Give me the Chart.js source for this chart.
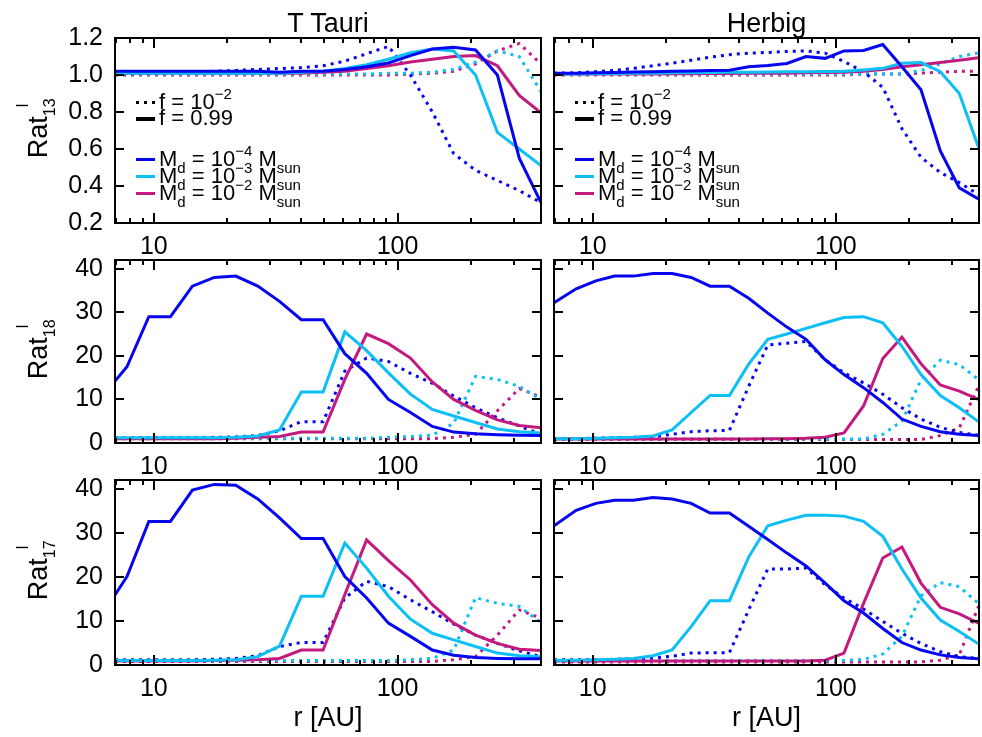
<!DOCTYPE html>
<html lang="en">
<head>
<meta charset="UTF-8">
<title>Line ratios vs radius</title>
<script src="https://cdn.jsdelivr.net/npm/chart.js"></script>
<style>
    body {
        margin: 0;
        background: #fff;
    }
    #fig {
        position: relative;
        width: 982px;
        height: 737px;
        overflow: hidden;
        font-family: "Liberation Sans", Arial, Helvetica, sans-serif;
        color: #000;
    }
    #fig canvas {
        position: absolute;
    }
    .txt {
        position: absolute;
        white-space: nowrap;
    }
    .title {
        font-size: 27px;
        line-height: 27px;
        width: 300px;
        text-align: center;
    }
    .ytitle {
        font-size: 27px;
        line-height: 27px;
        height: 27px;
        transform: translate(-50%, -50%) rotate(-90deg);
    }
    .ytitle .sb, .ytitle .sp {
        font-size: 16px;
        line-height: 0;
        position: relative;
    }
    .ytitle .sb { top: 8px; }
    .ytitle .sp { top: -19px; margin-left: -9px; }
    .leg {
        font-size: 22px;
        line-height: 22px;
    }
    .leg sub, .leg sup {
        font-size: 15px;
        line-height: 0;
        vertical-align: baseline;
        position: relative;
    }
    .leg sub { top: 7px; }
    .leg sup { top: -10px; }
    .sample {
        position: absolute;
        width: 19px;
        height: 3px;
    }
</style>
</head>
<body>
<div id="fig"></div>
<script>
// radial grids (AU) of the two disc models
const R_TTAURI = [6.93, 7.76, 9.54, 11.7, 14.4, 17.7, 21.7, 26.7, 32.8, 40.3, 49.5, 60.8, 74.7, 91.8, 113, 139, 170, 209, 257, 316, 388];
const R_HERBIG = [6.93, 8.55, 10.3, 12.3, 14.7, 17.7, 21.2, 25.4, 30.4, 36.5, 43.8, 52.5, 62.9, 75.4, 90.4, 108, 130, 156, 187, 224, 269, 322, 386];

// Rat_13, T Tauri
const TT13_M4_F99 = [1.02, 1.02, 1.02, 1.02, 1.02, 1.02, 1.02, 1.02, 1.015, 1.02, 1.02, 1.03, 1.045, 1.065, 1.105, 1.14, 1.15, 1.135, 1.0, 0.55, 0.31];
const TT13_M3_F99 = [1.01, 1.01, 1.01, 1.01, 1.01, 1.01, 1.01, 1.01, 1.01, 1.015, 1.02, 1.035, 1.055, 1.085, 1.12, 1.14, 1.13, 1.0, 0.69, 0.6, 0.51];
const TT13_M2_F99 = [1.01, 1.01, 1.01, 1.01, 1.01, 1.01, 1.01, 1.01, 1.01, 1.01, 1.015, 1.02, 1.035, 1.05, 1.07, 1.085, 1.1, 1.105, 1.05, 0.89, 0.795];
const TT13_M4_F01 = [1.005, 1.005, 1.01, 1.01, 1.015, 1.02, 1.025, 1.03, 1.035, 1.04, 1.05, 1.075, 1.115, 1.155, 1.0, 0.8, 0.575, 0.485, 0.43, 0.375, 0.31];
const TT13_M3_F01 = [1.005, 1.005, 1.005, 1.005, 1.005, 1.005, 1.005, 1.005, 1.005, 1.005, 1.005, 1.005, 1.005, 1.01, 1.01, 1.015, 1.03, 1.07, 1.13, 1.1, 0.91];
const TT13_M2_F01 = [1.0, 1.0, 1.0, 1.0, 1.0, 1.0, 1.0, 1.0, 1.0, 1.0, 1.0, 1.0, 1.0, 1.0, 1.005, 1.01, 1.02, 1.06, 1.13, 1.17, 1.06];

// Rat_13, Herbig
const HB13_M4_F99 = [1.01, 1.01, 1.012, 1.014, 1.016, 1.018, 1.02, 1.022, 1.024, 1.026, 1.045, 1.052, 1.062, 1.1, 1.09, 1.13, 1.133, 1.165, 1.045, 0.92, 0.59, 0.39, 0.33];
const HB13_M3_F99 = [1.005, 1.005, 1.007, 1.008, 1.01, 1.01, 1.012, 1.012, 1.014, 1.015, 1.015, 1.016, 1.017, 1.018, 1.019, 1.02, 1.027, 1.036, 1.064, 1.067, 1.018, 0.9, 0.61];
const HB13_M2_F99 = [1.005, 1.005, 1.005, 1.005, 1.005, 1.005, 1.007, 1.007, 1.008, 1.008, 1.01, 1.01, 1.01, 1.012, 1.013, 1.015, 1.02, 1.03, 1.045, 1.055, 1.067, 1.08, 1.093];
const HB13_M4_F01 = [1.01, 1.012, 1.018, 1.025, 1.036, 1.05, 1.064, 1.08, 1.096, 1.11, 1.118, 1.122, 1.127, 1.13, 1.118, 1.073, 1.018, 0.933, 0.71, 0.555, 0.473, 0.418, 0.355];
const HB13_M3_F01 = [1.005, 1.005, 1.005, 1.005, 1.005, 1.005, 1.005, 1.005, 1.005, 1.005, 1.005, 1.005, 1.005, 1.005, 1.005, 1.005, 1.005, 1.005, 1.005, 1.025, 1.06, 1.1, 1.12];
const HB13_M2_F01 = [1.0, 1.0, 1.0, 1.0, 1.0, 1.0, 1.0, 1.0, 1.0, 1.0, 1.0, 1.0, 1.0, 1.0, 1.0, 1.0, 1.005, 1.005, 1.005, 1.01, 1.015, 1.02, 1.02];

// Rat_18, T Tauri
const TT18_M4_F99 = [14.2, 17.5, 29, 29, 36, 38, 38.3, 36, 32.5, 28.3, 28.3, 20.5, 16, 10, 7, 3.8, 2.5, 2.1, 1.9, 1.8, 1.7];
const TT18_M3_F99 = [1.2, 1.2, 1.2, 1.2, 1.2, 1.2, 1.3, 1.6, 3, 11.7, 11.7, 25.5, 21.2, 16.1, 11.2, 7.7, 6.2, 4.7, 3.2, 2.6, 2.3];
const TT18_M2_F99 = [1, 1, 1, 1, 1, 1, 1.1, 1.3, 1.5, 2.5, 2.5, 14.6, 25, 22.8, 19.5, 14, 10, 7.5, 5.3, 4, 3.5];
const TT18_M4_F01 = [1.2, 1.2, 1.2, 1.2, 1.2, 1.3, 1.4, 1.7, 2.8, 4.9, 4.9, 16.5, 19.5, 18.7, 16, 13.7, 10.8, 8.1, 5.8, 3.9, 2.0];
const TT18_M3_F01 = [1.1, 1.1, 1.1, 1.1, 1.1, 1.1, 1.1, 1.1, 1.1, 1.1, 1.1, 1.1, 1.1, 1.3, 1.5, 1.8, 4.5, 15.3, 14.6, 13, 10];
const TT18_M2_F01 = [1, 1, 1, 1, 1, 1, 1, 1, 1, 1, 1, 1, 1, 1, 1, 1, 1.3, 2.0, 7.4, 12.5, 10.5];

// Rat_18, Herbig
const HB18_M4_F99 = [32.2, 35.4, 37.2, 38.3, 38.3, 38.9, 38.9, 38, 36, 36, 33.2, 29.8, 26.6, 23.8, 19.1, 15.7, 12.7, 9.3, 5.5, 3.8, 2.6, 2.0, 1.7];
const HB18_M3_F99 = [1.0, 1.0, 1.1, 1.2, 1.3, 1.6, 3.0, 7.0, 10.9, 10.9, 18.1, 23.8, 25.0, 26.3, 27.6, 28.8, 29.0, 27.6, 22.2, 15.7, 10.9, 8.1, 4.9];
const HB18_M2_F99 = [0.9, 0.9, 0.9, 0.9, 0.9, 0.9, 0.9, 0.9, 0.9, 0.9, 0.9, 1.0, 1.0, 1.1, 1.3, 2.3, 8.5, 19.4, 24.3, 18.2, 13.3, 11.9, 10.0];
const HB18_M4_F01 = [1.0, 1.0, 1.1, 1.2, 1.3, 1.5, 2.0, 2.6, 2.8, 2.9, 13, 22.5, 22.9, 23.3, 19.1, 16.1, 13.8, 11.2, 8.1, 5.5, 3.6, 2.4, 1.8];
const HB18_M3_F01 = [0.9, 0.9, 0.9, 0.9, 0.9, 0.9, 0.9, 0.9, 0.9, 0.9, 0.9, 0.9, 0.9, 0.9, 0.9, 0.9, 0.9, 2.0, 5.0, 14.5, 19, 18, 14.6];
const HB18_M2_F01 = [0.8, 0.8, 0.8, 0.8, 0.8, 0.8, 0.8, 0.8, 0.8, 0.8, 0.8, 0.8, 0.8, 0.8, 0.8, 0.8, 0.8, 0.8, 0.8, 0.8, 1.7, 3.5, 13];

// Rat_17, T Tauri
const TT17_M4_F99 = [15.9, 20.1, 32.6, 32.6, 39.7, 41, 40.8, 37.7, 33.4, 28.7, 28.7, 20.1, 15.2, 9.5, 6.5, 3.4, 2.2, 1.7, 1.5, 1.4, 1.4];
const TT17_M3_F99 = [1.0, 1.0, 1.0, 1.0, 1.0, 1.1, 1.2, 1.9, 4.3, 15.6, 15.6, 27.7, 22, 15.6, 10.4, 7.2, 5.7, 4.2, 2.7, 2.1, 1.9];
const TT17_M2_F99 = [0.9, 0.9, 0.9, 0.9, 0.9, 1.0, 1.1, 1.2, 1.5, 3.4, 3.4, 16, 28.4, 23.7, 19.3, 13.7, 9.5, 6.8, 4.9, 3.6, 3.3];
const TT17_M4_F01 = [1.2, 1.2, 1.2, 1.2, 1.2, 1.3, 1.5, 2.1, 4.2, 5.1, 5.1, 15.2, 19, 17.8, 14.8, 12.1, 9.3, 6.8, 4.9, 3.2, 1.9];
const TT17_M3_F01 = [1.0, 1.0, 1.0, 1.0, 1.0, 1.0, 1.0, 1.0, 1.0, 1.0, 1.0, 1.0, 1.0, 1.0, 1.2, 1.5, 3.4, 15.3, 14, 13.3, 9.6];
const TT17_M2_F01 = [0.8, 0.8, 0.8, 0.8, 0.8, 0.8, 0.8, 0.8, 0.8, 0.8, 0.8, 0.8, 0.8, 0.8, 0.8, 0.8, 1.2, 1.9, 6.8, 12.5, 10.6];

// Rat_17, Herbig
const HB17_M4_F99 = [31.6, 35.1, 36.7, 37.4, 37.4, 38, 37.7, 36.7, 34.5, 34.5, 31.5, 28.5, 25.4, 22.5, 18.6, 14.6, 11.8, 8.3, 5.1, 3.4, 2.3, 1.7, 1.4];
const HB17_M3_F99 = [1.0, 1.1, 1.2, 1.3, 1.5, 2.1, 3.4, 8.7, 14.6, 14.6, 24.5, 31.6, 32.9, 34, 34, 33.8, 32.6, 29.2, 21.8, 15.2, 10.2, 7.6, 4.8];
const HB17_M2_F99 = [0.9, 0.9, 0.9, 0.9, 0.9, 0.9, 0.9, 0.9, 0.9, 0.9, 0.9, 0.9, 0.9, 0.9, 1.1, 2.7, 14, 24.3, 26.8, 18.6, 13.1, 11.6, 9.5];
const HB17_M4_F01 = [1.2, 1.2, 1.2, 1.3, 1.4, 1.6, 2.0, 2.7, 2.8, 2.8, 12.5, 21.8, 21.8, 22, 18.2, 15.2, 12.7, 9.9, 7.2, 4.9, 3.0, 1.9, 1.5];
const HB17_M3_F01 = [1.0, 1.0, 1.0, 1.0, 1.0, 1.0, 1.0, 1.0, 1.0, 1.0, 1.0, 1.0, 1.0, 1.0, 1.0, 1.0, 1.3, 2.5, 6.5, 15.7, 18.7, 17.8, 14];
const HB17_M2_F01 = [0.7, 0.7, 0.7, 0.7, 0.7, 0.7, 0.7, 0.7, 0.7, 0.7, 0.7, 0.7, 0.7, 0.7, 0.7, 0.7, 0.7, 0.7, 0.7, 0.7, 1.1, 2.3, 13.3];

// axes
const X_MIN = 6.93;
const X_MAX = 388;
const X_TICKS = [7, 8, 9, 10, 20, 30, 40, 50, 60, 70, 80, 90, 100, 200, 300];
const X_LABELED = [10, 100];
const Y_TICKS_13 = [0.2, 0.4, 0.6, 0.8, 1.0, 1.2];
const Y_TICKS_ISO = [0, 10, 20, 30, 40];

const COL_TITLES = ['T Tauri', 'Herbig'];
const ROW_SUBS = ['13', '18', '17'];

const BLUE = '#0505f0';
const CYAN = '#0cbff5';
const MAGENTA = '#c4197f';
const SERIES_COLORS = [BLUE, CYAN, MAGENTA, BLUE, CYAN, MAGENTA];
const SERIES_DOTTED = [false, false, false, true, true, true];

const FONT = '"Liberation Sans", Arial, Helvetica, sans-serif';

// canvas geometry per column / row
const COLS = [
    { left: 0, width: 547, yAxisW: 115, padRight: 6, showY: true, plotLeft: 115, plotW: 426 },
    { left: 547, width: 435, yAxisW: 7, padRight: 3, showY: false, plotLeft: 554, plotW: 425 }
];
const ROWS = [
    { top: 0, height: 262, padTop: 38, axisH: 39, min: 0.2, max: 1.2, ticks: Y_TICKS_13, fmt: v => v.toFixed(1) },
    { top: 240, height: 240, padTop: 20, axisH: 37, min: 0, max: 42, ticks: Y_TICKS_ISO, fmt: v => String(v) },
    { top: 460, height: 277, padTop: 20, axisH: 72, min: 0, max: 42, ticks: Y_TICKS_ISO, fmt: v => String(v) }
];

const PANELS = [
    { row: 0, col: 0, radii: R_TTAURI, series: [TT13_M4_F99, TT13_M3_F99, TT13_M2_F99, TT13_M4_F01, TT13_M3_F01, TT13_M2_F01] },
    { row: 0, col: 1, radii: R_HERBIG, series: [HB13_M4_F99, HB13_M3_F99, HB13_M2_F99, HB13_M4_F01, HB13_M3_F01, HB13_M2_F01] },
    { row: 1, col: 0, radii: R_TTAURI, series: [TT18_M4_F99, TT18_M3_F99, TT18_M2_F99, TT18_M4_F01, TT18_M3_F01, TT18_M2_F01] },
    { row: 1, col: 1, radii: R_HERBIG, series: [HB18_M4_F99, HB18_M3_F99, HB18_M2_F99, HB18_M4_F01, HB18_M3_F01, HB18_M2_F01] },
    { row: 2, col: 0, radii: R_TTAURI, series: [TT17_M4_F99, TT17_M3_F99, TT17_M2_F99, TT17_M4_F01, TT17_M3_F01, TT17_M2_F01] },
    { row: 2, col: 1, radii: R_HERBIG, series: [HB17_M4_F99, HB17_M3_F99, HB17_M2_F99, HB17_M4_F01, HB17_M3_F01, HB17_M2_F01] }
];

// box with inward ticks on all four sides, IDL style
const frameTicks = {
    id: 'frameTicks',
    afterDatasetsDraw(chart) {
        const { ctx, chartArea: a } = chart;
        const xs = chart.scales.x;
        const ys = chart.scales.y;
        ctx.save();
        ctx.strokeStyle = '#000';
        ctx.lineWidth = 2;
        ctx.beginPath();
        xs.ticks.forEach(t => {
            const px = Math.round(xs.getPixelForValue(t.value));
            const len = X_LABELED.includes(t.value) ? 10 : 5;
            ctx.moveTo(px, a.bottom);
            ctx.lineTo(px, a.bottom - len);
            ctx.moveTo(px, a.top);
            ctx.lineTo(px, a.top + len);
        });
        ys.ticks.forEach(t => {
            const py = Math.round(ys.getPixelForValue(t.value));
            ctx.moveTo(a.left, py);
            ctx.lineTo(a.left + 9, py);
            ctx.moveTo(a.right, py);
            ctx.lineTo(a.right - 9, py);
        });
        ctx.stroke();
        ctx.strokeRect(a.left, a.top, a.right - a.left, a.bottom - a.top);
        ctx.restore();
    }
};

function zeroPadding(s) {
    s.paddingLeft = 0;
    s.paddingRight = 0;
    s.paddingTop = 0;
    s.paddingBottom = 0;
}

const fig = document.getElementById('fig');

PANELS.forEach(p => {
    const col = COLS[p.col];
    const row = ROWS[p.row];
    const canvas = document.createElement('canvas');
    canvas.width = col.width;
    canvas.height = row.height;
    canvas.style.left = col.left + 'px';
    canvas.style.top = row.top + 'px';
    fig.appendChild(canvas);

    const datasets = p.series.map((vals, i) => ({
        data: p.radii.map((r, j) => ({ x: r, y: vals[j] })),
        borderColor: SERIES_COLORS[i],
        borderWidth: 3,
        borderDash: SERIES_DOTTED[i] ? [3, 5] : [],
        borderCapStyle: 'butt',
        pointRadius: 0,
        tension: 0,
        fill: false,
        clip: 0
    }));

    new Chart(canvas.getContext('2d'), {
        type: 'line',
        data: { datasets },
        options: {
            responsive: false,
            animation: false,
            devicePixelRatio: 1,
            layout: { padding: { top: row.padTop, right: col.padRight, left: 0, bottom: 0 } },
            plugins: { legend: { display: false }, tooltip: { enabled: false } },
            scales: {
                x: {
                    type: 'logarithmic',
                    min: X_MIN,
                    max: X_MAX,
                    bounds: 'data',
                    afterBuildTicks: s => { s.ticks = X_TICKS.map(v => ({ value: v })); },
                    afterFit: s => { s.height = row.axisH; zeroPadding(s); },
                    grid: { display: false, drawTicks: false },
                    border: { display: false },
                    ticks: {
                        autoSkip: false,
                        maxRotation: 0,
                        padding: 9,
                        color: '#000',
                        font: { family: FONT, size: 25 },
                        callback: v => X_LABELED.includes(v) ? String(v) : ''
                    }
                },
                y: {
                    type: 'linear',
                    min: row.min,
                    max: row.max,
                    bounds: 'data',
                    afterBuildTicks: s => { s.ticks = row.ticks.map(v => ({ value: v })); },
                    afterFit: s => { s.width = col.yAxisW; zeroPadding(s); },
                    grid: { display: false, drawTicks: false },
                    border: { display: false },
                    ticks: {
                        display: col.showY,
                        padding: 12,
                        color: '#000',
                        font: { family: FONT, size: 25 },
                        callback: v => row.fmt(v)
                    }
                }
            }
        },
        plugins: [frameTicks]
    });
});

// text: titles, axis labels, legends
function addText(cls, html, left, top) {
    const d = document.createElement('div');
    d.className = 'txt ' + cls;
    d.innerHTML = html;
    d.style.left = left + 'px';
    d.style.top = top + 'px';
    fig.appendChild(d);
    return d;
}

COLS.forEach((c, i) => {
    const cx = c.plotLeft + c.plotW / 2;
    addText('title', COL_TITLES[i], cx - 150, 10);
    addText('title', 'r [AU]', cx - 150, 704);
});

ROWS.forEach((r, i) => {
    const top = r.top + r.padTop;
    const bottom = r.top + r.height - r.axisH;
    addText('ytitle', 'Rat<span class="sb">' + ROW_SUBS[i] + '</span><span class="sp">l</span>', 38, (top + bottom) / 2);
});

const LEGEND_LABELS = [
    'f = 10<sup>&minus;2</sup>',
    'f = 0.99',
    'M<sub>d</sub> = 10<sup>&minus;4</sup> M<sub>sun</sub>',
    'M<sub>d</sub> = 10<sup>&minus;3</sup> M<sub>sun</sub>',
    'M<sub>d</sub> = 10<sup>&minus;2</sup> M<sub>sun</sub>'
];
const LEGEND_COLORS = ['#000', '#000', BLUE, CYAN, MAGENTA];
const LEGEND_Y = [102, 118, 159, 176, 193];

COLS.forEach(c => {
    LEGEND_LABELS.forEach((lab, i) => {
        const s = document.createElement('div');
        s.className = 'sample';
        s.style.left = (c.plotLeft + 21) + 'px';
        s.style.top = (LEGEND_Y[i] - 1.5) + 'px';
        if (i === 0) {
            s.style.background = 'repeating-linear-gradient(90deg, #000 0 3px, transparent 3px 8px)';
        } else {
            s.style.background = LEGEND_COLORS[i];
        }
        if (i === 1) {
            s.style.height = '4px';
        }
        fig.appendChild(s);
        addText('leg', lab, c.plotLeft + 44, LEGEND_Y[i] - 11);
    });
});
</script>
</body>
</html>
